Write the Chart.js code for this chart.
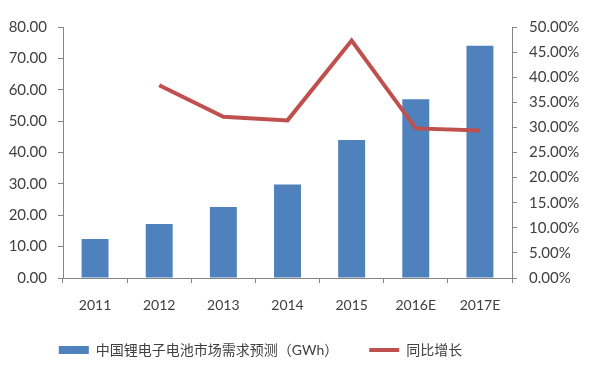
<!DOCTYPE html>
<html>
<head>
<meta charset="utf-8">
<script src="https://cdn.jsdelivr.net/npm/chart.js@4"></script>
<style>
  html, body { margin: 0; padding: 0; background: #fff; }
  #wrap { width: 600px; height: 368px; }
</style>
</head>
<body>
<div id="wrap"><canvas id="demandChart"></canvas></div>
<script>
// 数据
const years = ['2011', '2012', '2013', '2014', '2015', '2016E', '2017E'];
const demandGWh = [12.4, 17.2, 22.6, 29.8, 44.0, 57.0, 74.0];
const growthPct = [null, 38.4, 32.1, 31.4, 47.3, 29.8, 29.4];
const leftTicks = [0, 10, 20, 30, 40, 50, 60, 70, 80];
const rightTicks = [0, 5, 10, 15, 20, 25, 30, 35, 40, 45, 50];

const textColor = '#404040';
const axisColor = '#868686';
const fontFamily = "Lato, 'Noto Sans CJK SC', sans-serif";

// 图例整体向左偏移一点
const legendShift = {
    id: 'legendShift',
    afterUpdate(chart) {
        const lg = chart.legend;
        if (!lg) return;
        lg.left -= 33;
        lg.right -= 33;
        lg.adjustHitBoxes();
    }
};

const ctx = document.getElementById('demandChart').getContext('2d');

new Chart(ctx, {
    type: 'bar',
    data: {
        labels: years,
        datasets: [{
            label: '中国锂电子电池市场需求预测（GWh）',
            data: demandGWh,
            backgroundColor: '#4F81BD',
            borderWidth: 0,
            barPercentage: 0.42,
            categoryPercentage: 1,
            yAxisID: 'y',
            order: 1,
            pointStyle: 'rect'
        }, {
            type: 'line',
            label: '同比增长',
            data: growthPct,
            borderColor: '#C0504D',
            backgroundColor: '#C0504D',
            borderWidth: 4,
            pointRadius: 0,
            tension: 0,
            yAxisID: 'y1',
            order: 0,
            pointStyle: 'line'
        }]
    },
    plugins: [legendShift],
    options: {
        responsive: true,
        maintainAspectRatio: false,
        animation: false,
        layout: {
            padding: { top: 27, right: 21, bottom: 1, left: 8 }
        },
        plugins: {
            legend: {
                position: 'bottom',
                labels: {
                    color: textColor,
                    font: { family: fontFamily, size: 14 },
                    usePointStyle: true,
                    pointStyleWidth: 30,
                    boxHeight: 8,
                    padding: 10,
                    sort: (a, b) => a.datasetIndex - b.datasetIndex,
                    generateLabels: chart => {
                        const items = Chart.defaults.plugins.legend.labels.generateLabels(chart);
                        // 图例项之间留出更大的间距
                        items.forEach(it => { if (it.datasetIndex === 0) it.text += '\u3000\u3000'; });
                        return items;
                    }
                }
            },
            tooltip: { enabled: false }
        },
        scales: {
            x: {
                grid: {
                    display: true,
                    drawOnChartArea: false,
                    color: axisColor,
                    tickLength: 5
                },
                border: { color: axisColor },
                ticks: {
                    color: textColor,
                    font: { family: fontFamily, size: 14 },
                    padding: 14,
                    maxRotation: 0
                },
                afterFit: axis => { axis.height = 55; }
            },
            y: {
                position: 'left',
                min: 0,
                max: 80,
                afterBuildTicks: axis => { axis.ticks = leftTicks.map(v => ({ value: v })); },
                grid: {
                    display: true,
                    drawOnChartArea: false,
                    color: axisColor,
                    tickLength: 5
                },
                border: { color: axisColor },
                ticks: {
                    color: textColor,
                    font: { family: fontFamily, size: 15 },
                    padding: 11,
                    callback: v => v.toFixed(2)
                },
                afterFit: axis => { axis.width = 55; }
            },
            y1: {
                position: 'right',
                min: 0,
                max: 50,
                afterBuildTicks: axis => { axis.ticks = rightTicks.map(v => ({ value: v })); },
                grid: {
                    display: true,
                    drawOnChartArea: false,
                    color: axisColor,
                    tickLength: 5
                },
                border: { color: axisColor },
                ticks: {
                    color: textColor,
                    font: { family: fontFamily, size: 15 },
                    padding: 12,
                    callback: v => v.toFixed(2) + '%'
                },
                afterFit: axis => { axis.width = 67; }
            }
        }
    }
});
</script>
</body>
</html>
